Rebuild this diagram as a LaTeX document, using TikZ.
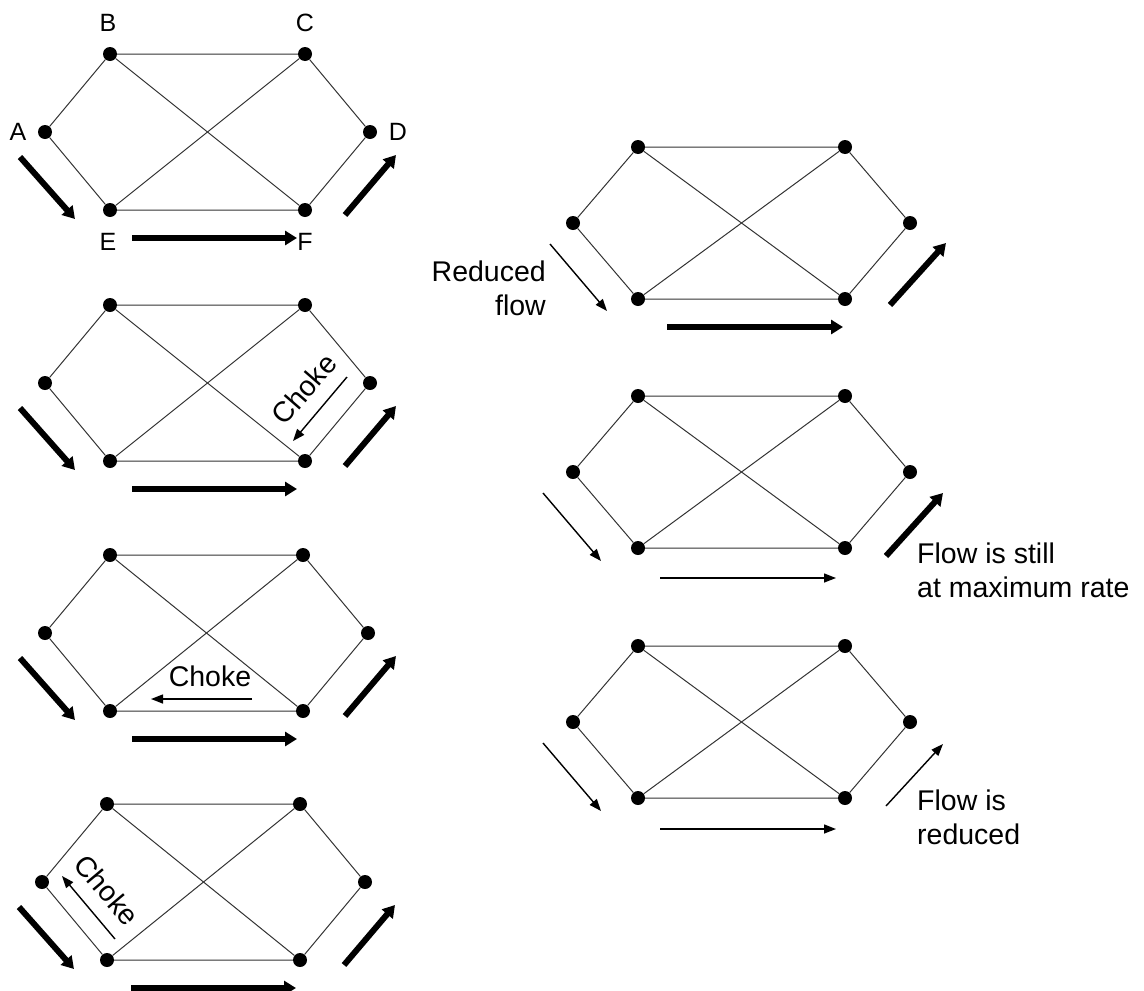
\documentclass[tikz,border=0pt]{standalone}
\usepackage{fontspec}
\setmainfont{Liberation Sans}
\usetikzlibrary{arrows.meta}
\tikzset{
  dot/.style={circle,fill=black,inner sep=0pt,minimum size=14pt},
  edge/.style={draw=black!80,line width=1pt},
  thickflow/.style={line width=6pt,-{Triangle[length=12pt,width=14pt]}},
  thinflow/.style={line width=1.4pt,-{Triangle[length=12pt,width=9pt]}},
  lbl/.style={font=\fontsize{25}{30}\selectfont,inner sep=0pt},
  txt/.style={font=\fontsize{28.5}{34}\selectfont,inner sep=0pt},
}
\newcommand\hexgraph[5]{% prefix, Bx, By, Cx, height
  \node[dot] (#1A) at (#2-65,#3+#5/2) {};
  \node[dot] (#1B) at (#2,#3) {};
  \node[dot] (#1C) at (#4,#3) {};
  \node[dot] (#1D) at (#4+65,#3+#5/2) {};
  \node[dot] (#1E) at (#2,#3+#5) {};
  \node[dot] (#1F) at (#4,#3+#5) {};
  \draw[edge] (#1A) -- (#1B) -- (#1C) -- (#1D) -- (#1F) -- (#1E) -- (#1A);
  \draw[edge] (#1B) -- (#1F);
  \draw[edge] (#1C) -- (#1E);
}
\begin{document}
\begin{tikzpicture}[x=1pt,y=-1pt]
\useasboundingbox (0,0) rectangle (1144,991);
% graphs
\hexgraph{g1}{110}{54}{305}{156}
\hexgraph{g2}{110}{305}{305}{156}
\hexgraph{g3}{110}{555}{303}{156}
\hexgraph{g4}{107}{804}{300}{156}
\hexgraph{g5}{638}{147}{845}{152}
\hexgraph{g6}{638}{396}{845}{152}
\hexgraph{g7}{638}{646}{845}{152}
% labels of graph 1
\node[lbl] (lA) at (18,132) {A};
\node[lbl] (lB) at (108,23) {B};
\node[lbl] (lC) at (305,23) {C};
\node[lbl] (lD) at (398,132) {D};
\node[lbl] (lE) at (108,242) {E};
\node[lbl] (lF) at (305,242) {F};
% flow arrows, left column
\foreach \g/\dy/\dx in {1/0/0, 2/251/0, 3/501/0, 4/750/-1}{
  \coordinate (a\g s) at (20+\dx,157+\dy);
  \coordinate (a\g e) at (75+\dx,219+\dy);
  \coordinate (b\g s) at (132+\dx,238+\dy);
  \coordinate (b\g e) at (297+\dx,238+\dy);
  \coordinate (d\g s) at (345+\dx,215+\dy);
  \coordinate (d\g e) at (396+\dx,155+\dy);
  \draw[thickflow] (a\g s) -- (a\g e);
  \draw[thickflow] (b\g s) -- (b\g e);
  \draw[thickflow] (d\g s) -- (d\g e);
}
% chokes
\coordinate (c2s) at (347,377);
\coordinate (c2e) at (293,441);
\draw[thinflow] (c2s) -- (c2e);
\node[txt,rotate=49] (ch2) at (304,389) {Choke};
\coordinate (c3s) at (252,699);
\coordinate (c3e) at (151,699);
\draw[thinflow] (c3s) -- (c3e);
\node[txt] (ch3) at (210,676) {Choke};
\coordinate (c4s) at (115,939);
\coordinate (c4e) at (62,876);
\draw[thinflow] (c4s) -- (c4e);
\node[txt,rotate=-50] (ch4) at (107,890) {Choke};
% right column arrows
\coordinate (r5as) at (550,244); \coordinate (r5ae) at (607,311);
\coordinate (r5bs) at (667,327); \coordinate (r5be) at (843,327);
\coordinate (r5ds) at (890,305); \coordinate (r5de) at (946,243);
\draw[thinflow] (r5as) -- (r5ae);
\draw[thickflow] (r5bs) -- (r5be);
\draw[thickflow] (r5ds) -- (r5de);
\coordinate (r6as) at (543,493); \coordinate (r6ae) at (601,561);
\coordinate (r6bs) at (660,578); \coordinate (r6be) at (836,578);
\coordinate (r6ds) at (886,556); \coordinate (r6de) at (943,493);
\draw[thinflow] (r6as) -- (r6ae);
\draw[thinflow] (r6bs) -- (r6be);
\draw[thickflow] (r6ds) -- (r6de);
\coordinate (r7as) at (543,743); \coordinate (r7ae) at (601,811);
\coordinate (r7bs) at (660,829); \coordinate (r7be) at (836,829);
\coordinate (r7ds) at (886,806); \coordinate (r7de) at (943,744);
\draw[thinflow] (r7as) -- (r7ae);
\draw[thinflow] (r7bs) -- (r7be);
\draw[thinflow] (r7ds) -- (r7de);
% texts
\node[txt,align=right,anchor=east] (t5) at (546,288) {Reduced\\flow};
\node[txt,align=left,anchor=west] (t6) at (917,570) {Flow is still\\at maximum rate};
\node[txt,align=left,anchor=west] (t7) at (917,817) {Flow is\\reduced};
\end{tikzpicture}
\end{document}
